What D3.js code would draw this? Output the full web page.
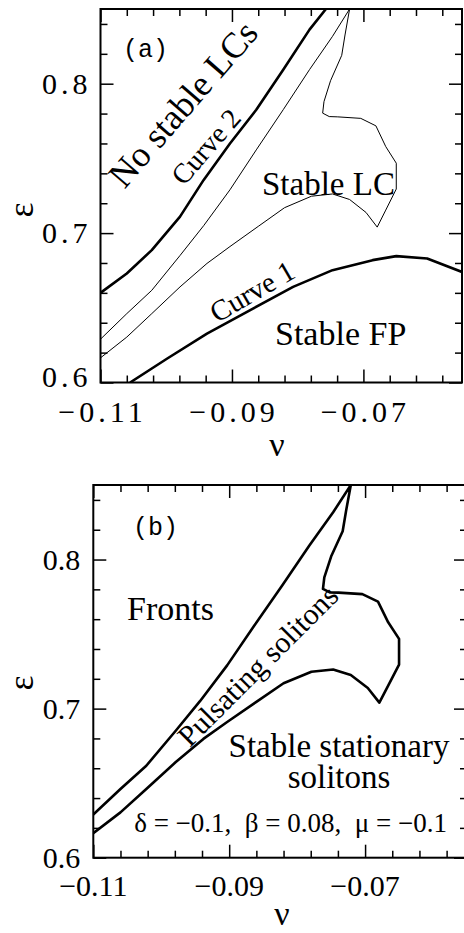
<!DOCTYPE html>
<html>
<head>
<meta charset="utf-8">
<script src="https://cdn.jsdelivr.net/npm/d3@7"></script>
<style>
  body { margin: 0; background: #fff; }
  svg { display: block; }
</style>
</head>
<body>
<script>
// axis ranges and ticks
const nuDomain = [-0.11, -0.055];
const epsDomain = [0.6, 0.85];
const nuMajor = [-0.11, -0.09, -0.07];
const nuMinor = [-0.106, -0.102, -0.098, -0.094, -0.086, -0.082, -0.078, -0.074, -0.066, -0.062, -0.058];
const epsMajor = [0.6, 0.7, 0.8];
const epsMinor = [0.62, 0.64, 0.66, 0.68, 0.72, 0.74, 0.76, 0.78, 0.82, 0.84];
const nuLabels = ["\u22120.11", "\u22120.09", "\u22120.07"];
const epsLabels = ["0.6", "0.7", "0.8"];

// curve 2 [nu, eps] - upper thick line in (a)
const curve2 = [
  [-0.11, 0.660], [-0.106, 0.673], [-0.1022, 0.6886], [-0.0979, 0.711], [-0.0943, 0.7356],
  [-0.0903, 0.760], [-0.0863, 0.7826], [-0.0822, 0.8094], [-0.0782, 0.8362], [-0.0757, 0.850]
];

// curve 1 [nu, eps] - lower thick line in (a)
const curve1 = [
  [-0.1055, 0.600], [-0.0999, 0.6159], [-0.0938, 0.6327], [-0.0868, 0.6495], [-0.0807, 0.664],
  [-0.0747, 0.6752], [-0.0686, 0.6819], [-0.065, 0.6846], [-0.0603, 0.683], [-0.055, 0.674]
];

// boundary of the pulsating soliton region [nu, eps]
const pulsating = [
  [-0.11, 0.629], [-0.106, 0.6461], [-0.1022, 0.6617], [-0.0979, 0.6850], [-0.0943, 0.7050],
  [-0.0903, 0.7290], [-0.0863, 0.7557], [-0.0822, 0.7826], [-0.0782, 0.8094], [-0.0747, 0.8317],
  [-0.0721, 0.850],
  [-0.0728, 0.8326], [-0.0733, 0.8190], [-0.0750, 0.8020], [-0.0760, 0.7880], [-0.0762, 0.7803],
  [-0.0752, 0.7780], [-0.0739, 0.7778], [-0.0704, 0.7768], [-0.0681, 0.7718], [-0.0666, 0.7579],
  [-0.0650, 0.7468], [-0.0650, 0.7295], [-0.0666, 0.7154], [-0.0679, 0.7040], [-0.0696, 0.7138],
  [-0.0721, 0.7225], [-0.0747, 0.7262], [-0.0779, 0.7247], [-0.0820, 0.7170], [-0.0860, 0.7045],
  [-0.0903, 0.6910], [-0.0938, 0.6797], [-0.0979, 0.6640], [-0.1022, 0.6461], [-0.106, 0.6304],
  [-0.11, 0.6165]
];

const serif = "Liberation Serif";
const mono = "Liberation Mono";

const svg = d3.select("body")
  .append("svg")
  .attr("width", 464)
  .attr("height", 933);

function drawPanel(box, opts) {
  const x = d3.scaleLinear().domain(nuDomain).range([box.left, box.right]);
  const y = d3.scaleLinear().domain(epsDomain).range([box.bottom, box.top]);
  const g = svg.append("g");
  const noDomain = a => a.select(".domain").remove();

  // ticks on all four sides, pointing in (minor 7px, major 13px)
  [[nuMinor, epsMinor, -7], [nuMajor, epsMajor, -13]].forEach(([xv, yv, len]) => {
    g.append("g").attr("transform", `translate(0,${box.bottom})`)
      .call(d3.axisBottom(x).tickValues(xv).tickSize(len).tickFormat("")).call(noDomain);
    g.append("g").attr("transform", `translate(0,${box.top})`)
      .call(d3.axisTop(x).tickValues(xv).tickSize(len).tickFormat("")).call(noDomain);
    g.append("g").attr("transform", `translate(${box.left},0)`)
      .call(d3.axisLeft(y).tickValues(yv).tickSize(len).tickFormat("")).call(noDomain);
    g.append("g").attr("transform", `translate(${box.right},0)`)
      .call(d3.axisRight(y).tickValues(yv).tickSize(len).tickFormat("")).call(noDomain);
  });
  g.selectAll(".tick line").attr("stroke-width", 1.5);

  // tick labels
  g.append("g").selectAll("text")
    .data(nuMajor)
    .join("text")
    .attr("x", d => x(d) + opts.spacing / 2)
    .attr("y", box.bottom + opts.xLabelY)
    .attr("text-anchor", "middle")
    .style("font-family", serif)
    .style("font-size", "30px")
    .style("letter-spacing", opts.spacing + "px")
    .text((d, i) => nuLabels[i]);
  g.append("g").selectAll("text")
    .data(epsMajor)
    .join("text")
    .attr("x", box.left - 13 + opts.spacing)
    .attr("y", (d, i) => y(d) + (i === 0 ? opts.lowShift : 0))
    .attr("dy", "0.34em")
    .attr("text-anchor", "end")
    .style("font-family", serif)
    .style("font-size", "30px")
    .style("letter-spacing", opts.spacing + "px")
    .text((d, i) => epsLabels[i]);

  // clip for curves
  g.append("clipPath").attr("id", "clip" + opts.id)
    .append("rect")
    .attr("x", box.left).attr("y", box.top)
    .attr("width", box.right - box.left).attr("height", box.bottom - box.top);

  // frame
  g.append("rect")
    .attr("x", box.left).attr("y", box.top)
    .attr("width", box.right - box.left).attr("height", box.bottom - box.top)
    .attr("fill", "none").attr("stroke", "#000").attr("stroke-width", 2);

  // axis names
  g.append("text")
    .attr("transform", `translate(33,${opts.epsY}) rotate(-90)`)
    .attr("text-anchor", "middle")
    .style("font-family", serif).style("font-size", "36px")
    .text("\u03b5");
  g.append("text")
    .attr("x", opts.nuX).attr("y", opts.nuY)
    .attr("text-anchor", "middle")
    .style("font-family", serif).style("font-size", "34px")
    .text("\u03bd");

  return { g, x, y, clip: "url(#clip" + opts.id + ")" };
}

function drawCurve(p, data, width) {
  const line = d3.line().x(d => p.x(d[0])).y(d => p.y(d[1]));
  p.g.append("path")
    .datum(data)
    .attr("clip-path", p.clip)
    .attr("d", line)
    .attr("fill", "none")
    .attr("stroke", "#000")
    .attr("stroke-width", width)
    .attr("stroke-linejoin", "round");
}

function label(p, text, x, y, size, opts) {
  opts = opts || {};
  return p.g.append("text")
    .attr("transform", `translate(${x},${y}) rotate(${opts.angle || 0})`)
    .attr("text-anchor", opts.anchor || "start")
    .style("font-family", opts.font || serif)
    .style("font-size", size + "px")
    .style("white-space", "pre")
    .text(text);
}

// panel (a)
const a = drawPanel(
  { left: 100.5, right: 462, top: 9, bottom: 382.5 },
  { id: "a", spacing: 4, xLabelY: 39, epsY: 210, nuX: 277, nuY: 456, lowShift: -6 }
);
drawCurve(a, pulsating, 1);
drawCurve(a, curve2, 2.6);
drawCurve(a, curve1, 2.6);

label(a, "(a)", 123, 57, 25, { font: mono });
label(a, "No stable LCs", 192, 112, 36, { angle: -49, anchor: "middle" });
label(a, "Curve 2", 213, 153, 28, { angle: -49, anchor: "middle" });
label(a, "Stable LC", 262, 195, 33);
label(a, "Curve 1", 257, 300, 29, { angle: -30, anchor: "middle" });
label(a, "Stable FP", 275, 345, 34);

// panel (b)
const b = drawPanel(
  { left: 93.3, right: 467, top: 485, bottom: 857.7 },
  { id: "b", spacing: 0, xLabelY: 38.5, epsY: 683, nuX: 282, nuY: 925, lowShift: 0 }
);
drawCurve(b, pulsating, 2.6);

label(b, "(b)", 133, 535, 25, { font: mono });
label(b, "Fronts", 127, 620, 34);
label(b, "Pulsating solitons", 265, 673, 30, { angle: -45, anchor: "middle" });
label(b, "Stable stationary", 339, 757, 33, { anchor: "middle" });
label(b, "solitons", 339, 788, 33, { anchor: "middle" });
label(b, "\u03b4 = \u22120.1,  \u03b2 = 0.08,  \u03bc = \u22120.1", 447, 832, 27, { anchor: "end" });
</script>
</body>
</html>
